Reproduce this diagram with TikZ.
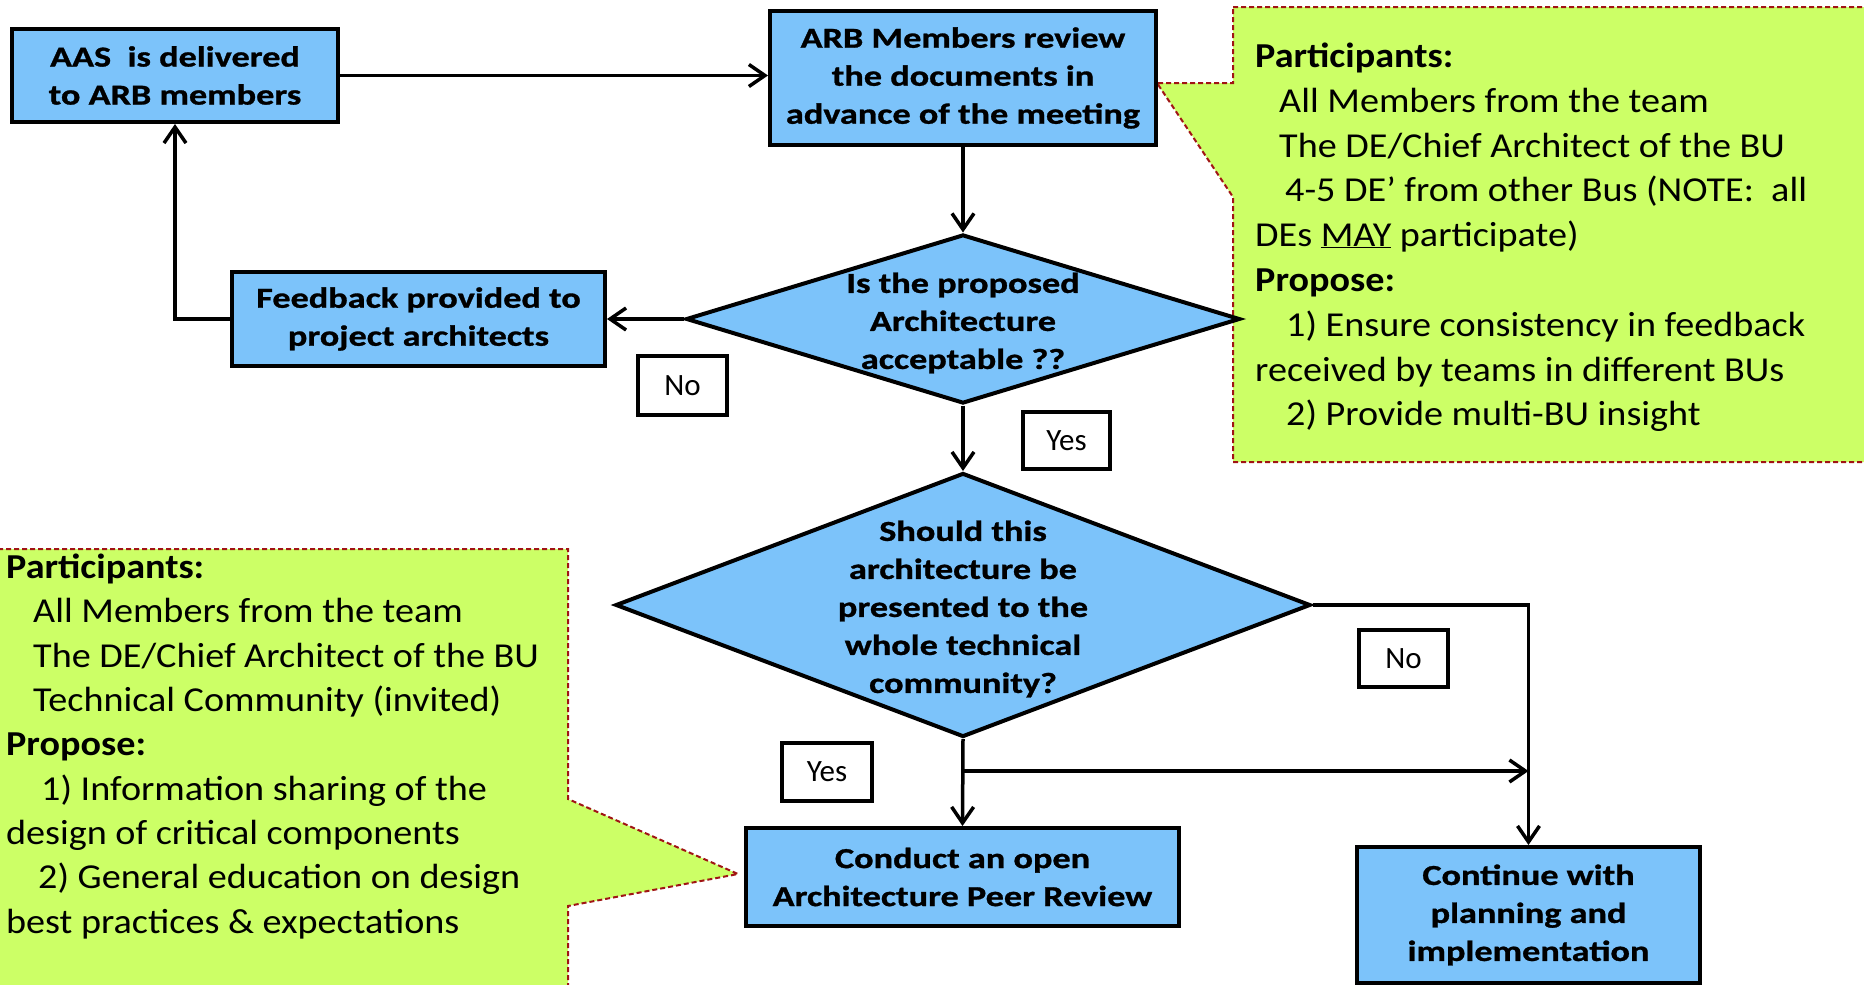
\documentclass[tikz,border=0pt]{standalone}
\usepackage{fontspec}
\setmainfont{Carlito}
\newfontfamily\notefont[FakeStretch=1.09]{Carlito}
\newfontfamily\boxfont[FakeStretch=1.25, BoldFeatures={FakeBold=1}]{Carlito}
\usetikzlibrary{arrows.meta,shapes.geometric}
\definecolor{boxblue}{RGB}{124,195,250}
\definecolor{notegreen}{RGB}{204,255,102}
\definecolor{notered}{RGB}{160,20,20}
\begin{document}
\begin{tikzpicture}[x=1pt,y=-1pt,
  flowbox/.style={draw=black, line width=4pt, fill=boxblue, align=center, inner sep=0pt,
    font=\boxfont\bfseries\fontsize{29}{38}\selectfont},
  decision/.style={diamond, draw=black, line width=4pt, fill=boxblue, inner sep=0pt},
  dtext/.style={align=center, inner sep=0pt, font=\boxfont\bfseries\fontsize{29}{38}\selectfont},
  lbl/.style={draw=black, line width=3.5pt, fill=white, inner sep=0pt, font=\fontsize{31}{31}\selectfont},
  conn/.style={line width=3.5pt, -{Straight Barb[length=16pt,width=22pt]}},
  note/.style={fill=notegreen, draw=notered, line width=2pt, dash pattern=on 5pt off 3pt},
  ntxt/.style={anchor=base west, inner sep=0pt, font=\notefont\fontsize{35}{45}\selectfont}
]
\useasboundingbox (0,0) rectangle (1864,985);

% callout notes
\begin{scope}
  \clip (0,0) rectangle (1864,985);
  \path[note] (1233,7) -- (1880,7) -- (1880,462) -- (1233,462) -- (1233,197)
     -- (1157,83) -- (1233,83) -- cycle;
  \path[note] (-10,549) -- (568,549) -- (568,799) -- (738,874) -- (568,906)
     -- (568,1000) -- (-10,1000) -- cycle;
\end{scope}

% right note text
\node[ntxt] (r1) at (1255,67) {\bfseries Participants:};
\node[ntxt] (r2) at (1279,112) {All Members from the team};
\node[ntxt] (r3) at (1279,157) {The DE/Chief Architect of the BU};
\node[ntxt] (r4) at (1285,201) {4-5 DE’ from other Bus (NOTE:\ \ all};
\node[ntxt] (r5) at (1255,246) {DEs \underline{MAY} participate)};
\node[ntxt] (r6) at (1255,291) {\bfseries Propose:};
\node[ntxt] (r7) at (1286,336) {1) Ensure consistency in feedback};
\node[ntxt] (r8) at (1255,381) {received by teams in different BUs};
\node[ntxt] (r9) at (1286,425) {2) Provide multi-BU insight};

% left note text
\node[ntxt] (l1) at (6,578) {\bfseries Participants:};
\node[ntxt] (l2) at (33,622) {All Members from the team};
\node[ntxt] (l3) at (33,667) {The DE/Chief Architect of the BU};
\node[ntxt] (l4) at (33,711) {Technical Community (invited)};
\node[ntxt] (l5) at (6,755) {\bfseries Propose:};
\node[ntxt] (l6) at (41,800) {1) Information sharing of the};
\node[ntxt] (l7) at (6,844) {design of critical components};
\node[ntxt] (l8) at (38,888) {2) General education on design};
\node[ntxt] (l9) at (6,933) {best practices \& expectations};

% flow nodes
\node[flowbox, minimum width=326pt, minimum height=93pt] (aas) at (175,75.5) {AAS\ \ is delivered\\to ARB members};
\node[flowbox, minimum width=386pt, minimum height=134pt] (arb) at (963,78) {ARB Members review\\the documents in\\advance of the meeting};
\node[decision, minimum width=554pt, minimum height=169pt] (d1) at (963,319) {};
\node[dtext] (d1t) at (963,323) {Is the proposed\\Architecture\\acceptable ??};
\node[flowbox, minimum width=373pt, minimum height=94pt] (fb) at (418.5,319) {Feedback provided to\\project architects};
\node[decision, minimum width=695pt, minimum height=264pt] (d2) at (963,605) {};
\node[dtext] (d2t) at (963,609) {Should this\\architecture be\\presented to the\\whole technical\\community?};
\node[flowbox, minimum width=433pt, minimum height=98pt] (cond) at (962.5,877) {Conduct an open\\Architecture Peer Review};
\node[flowbox, minimum width=343pt, minimum height=136pt] (cont) at (1528.5,915) {Continue with\\planning and\\implementation};

% labels
\node[lbl, minimum width=89pt, minimum height=59pt] (no1) at (682.5,385.5) {No};
\node[lbl, minimum width=87pt, minimum height=57pt] (yes1) at (1066.5,440.5) {Yes};
\node[lbl, minimum width=89pt, minimum height=57pt] (no2) at (1403.5,658.5) {No};
\node[lbl, minimum width=90pt, minimum height=58pt] (yes2) at (827,772) {Yes};

% connectors
\draw[conn] (aas.east) -- (aas.east -| arb.west);
\draw[conn] (arb.south) -- (d1.north);
\draw[conn] (d1.west) -- (fb.east);
\draw[conn] (fb.west) -| (aas.south);
\draw[conn] (d1.south) -- (d2.north);
\draw[conn] (d2.east) -| (cont.north);
\draw[conn] (d2.south) -- (cond.north);
\coordinate (fork) at (963,771);
\draw[conn] (fork) -- (fork -| cont.north);
\end{tikzpicture}
\end{document}
